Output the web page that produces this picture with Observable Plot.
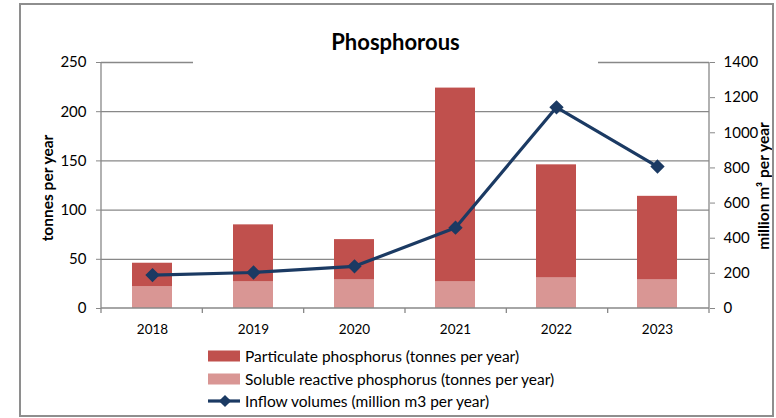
<!DOCTYPE html>
<html><head><meta charset="utf-8">
<script src="https://cdn.jsdelivr.net/npm/d3@7"></script>
<script src="https://cdn.jsdelivr.net/npm/@observablehq/plot@0.6"></script>
<style>
body{margin:0;background:#fff;font-family:Lato,"Open Sans",sans-serif;}
#wrap{position:relative;width:776px;height:418px;overflow:hidden;background:#fff;}
#chart{position:absolute;left:0;top:0;}
#frame{position:absolute;left:19px;top:3px;width:755px;height:414px;box-sizing:border-box;border:2px solid #8e8e8e;pointer-events:none;}
#title{position:absolute;left:193px;top:22px;width:405px;height:43px;background:#fff;text-align:center;font-weight:bold;font-size:22px;line-height:40px;color:#000;}
.ytitle{position:absolute;font-weight:bold;font-size:15.5px;color:#000;white-space:nowrap;transform:translate(-50%,-50%) rotate(-90deg);}
#legend{position:absolute;left:208px;top:345px;font-size:15.5px;color:#000;}
.row{height:22.5px;display:flex;align-items:center;}
.row svg{margin-right:5px;flex:none;}
</style></head><body>
<div id="wrap">
  <div id="chart"></div>
  <div id="title">Phosphorous</div>
  <div class="ytitle" style="left:47px;top:188px;">tonnes per year</div>
  <div class="ytitle" style="left:763px;top:186px;">million m³ per year</div>
  <div id="legend"></div>
  <div id="frame"></div>
</div>
<script>
// ---- data ----
const years = ["2018", "2019", "2020", "2021", "2022", "2023"];
const soluble = [22, 27, 29, 27, 31, 29];          // tonnes per year
const particulate = [24, 58, 41, 197, 115, 85];    // tonnes per year (stacked above soluble)
const inflow = [190, 205, 240, 460, 1145, 808];    // million m3 per year
const leftTicks = [0, 50, 100, 150, 200, 250];
const rightTicks = [0, 200, 400, 600, 800, 1000, 1200, 1400];
const seriesNames = [
  "Soluble reactive phosphorus (tonnes per year)",
  "Particulate phosphorus (tonnes per year)"
];
const lineName = "Inflow volumes (million m3 per year)";
const colors = {particulate: "#C0504D", soluble: "#D99694", line: "#1B3A63", grid: "#888888"};

const leftMax = leftTicks[leftTicks.length - 1];
const rightMax = rightTicks[rightTicks.length - 1];
const k = leftMax / rightMax;

const rows = [];
years.forEach((yr, i) => {
  rows.push({year: yr, series: seriesNames[0], value: soluble[i]});
  rows.push({year: yr, series: seriesNames[1], value: particulate[i]});
});
const lineData = years.map((yr, i) => ({year: yr, v: inflow[i] * k}));

function axisLines(index, scales, values, dims) {
  const x0 = dims.marginLeft, x1 = dims.width - dims.marginRight;
  const y0 = dims.marginTop, y1 = dims.height - dims.marginBottom;
  const g = d3.create("svg:g").attr("stroke", colors.grid).attr("stroke-width", 1.3).attr("fill", "none");
  g.append("line").attr("x1", x0).attr("x2", x0).attr("y1", y0).attr("y2", y1);
  g.append("line").attr("x1", x1).attr("x2", x1).attr("y1", y0).attr("y2", y1);
  g.append("line").attr("x1", x0).attr("x2", x1).attr("y1", y1).attr("y2", y1);
  const step = (x1 - x0) / years.length;
  for (let i = 0; i <= years.length; i++) {
    g.append("line").attr("x1", x0 + i * step).attr("x2", x0 + i * step).attr("y1", y1).attr("y2", y1 + 5);
  }
  return g.node();
}

const chart = Plot.plot({
  width: 776,
  height: 345,
  marginLeft: 101,
  marginRight: 67,
  marginTop: 62,
  marginBottom: 37,
  style: {background: "transparent", fontFamily: "Lato, 'Open Sans', sans-serif", color: "#000"},
  x: {domain: years, paddingInner: 0.6, paddingOuter: 0.3, label: null},
  y: {domain: [0, leftMax], label: null},
  color: {domain: seriesNames, range: [colors.soluble, colors.particulate]},
  marks: [
    Plot.gridY({ticks: leftTicks.slice(1), stroke: colors.grid, strokeOpacity: 1, strokeWidth: 1.3}),
    Plot.barY(rows, {x: "year", y: "value", fill: "series"}),
    axisLines,
    Plot.axisY({ticks: leftTicks, tickSize: 5, tickPadding: 10, stroke: colors.grid, fill: "#000", fontSize: 15, label: null}),
    Plot.axisY({anchor: "right", ticks: rightTicks.map(v => v * k), tickFormat: d => String(Math.round(d / k)),
                tickSize: 5, tickPadding: 9, stroke: colors.grid, fill: "#000", fontSize: 15, label: null}),
    Plot.axisX({tickSize: 0, tickPadding: 16, fontSize: 13.5, fill: "#000", label: null}),
    Plot.line(lineData, {x: "year", y: "v", stroke: colors.line, strokeWidth: 3.2}),
    Plot.dot(lineData, {x: "year", y: "v", symbol: "diamond2", r: 5.5, fill: colors.line, stroke: colors.line})
  ]
});
document.getElementById("chart").appendChild(chart);

// ---- legend ----
const legend = d3.select("#legend");
const legendItems = [
  {name: seriesNames[1], color: colors.particulate, type: "rect"},
  {name: seriesNames[0], color: colors.soluble, type: "rect"},
  {name: lineName, color: colors.line, type: "line"}
];
legendItems.forEach(it => {
  const row = legend.append("div").attr("class", "row");
  const s = row.append("svg").attr("width", 32).attr("height", 14);
  if (it.type === "rect") {
    s.append("rect").attr("x", 0).attr("y", 1.5).attr("width", 32).attr("height", 11).attr("fill", it.color);
  } else {
    s.append("line").attr("x1", 0).attr("x2", 32).attr("y1", 7).attr("y2", 7).attr("stroke", it.color).attr("stroke-width", 3.2);
    s.append("path").attr("d", d3.symbol(d3.symbolDiamond2, Math.PI * 5.5 * 5.5)()).attr("transform", "translate(17,7)").attr("fill", it.color);
  }
  row.append("span").text(it.name);
});
</script>
</body></html>
